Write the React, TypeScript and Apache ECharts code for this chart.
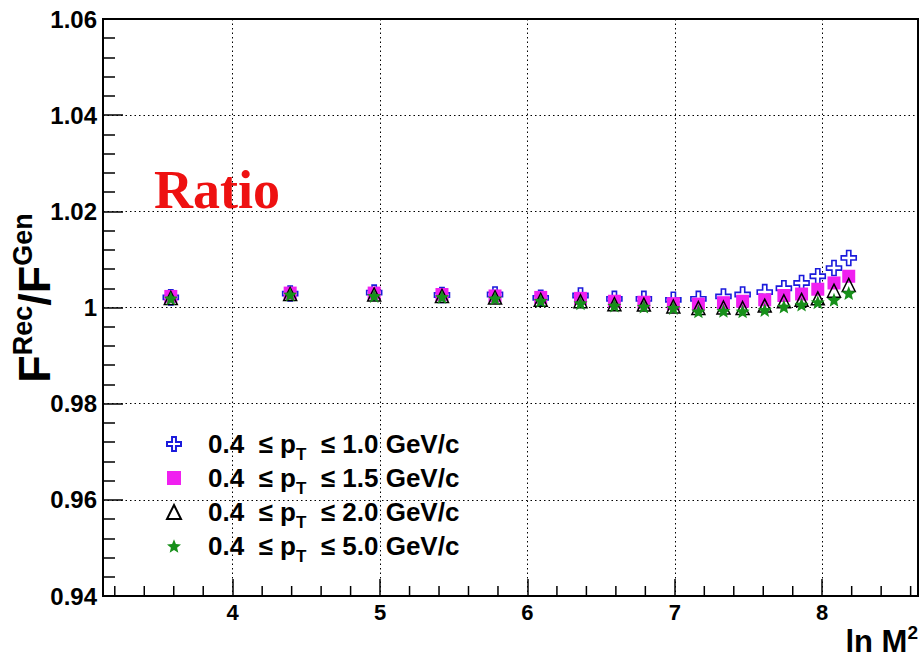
import React, { useEffect, useRef } from "react";
import * as echarts from "echarts";

// ln M^2 bin centres
const lnM2 = [3.58, 4.39, 4.96, 5.42, 5.78, 6.09, 6.36, 6.59, 6.79, 6.99, 7.16, 7.33, 7.46, 7.61, 7.74, 7.86, 7.97, 8.08, 8.18];

// F^Rec / F^Gen for the four p_T windows
const ratioPt10 = [1.0021, 1.0029, 1.0031, 1.0026, 1.0027, 1.0020, 1.0025, 1.0018, 1.0018, 1.0016, 1.0018, 1.0023, 1.0027, 1.0032, 1.0040, 1.0051, 1.0065, 1.0082, 1.0103];
const ratioPt15 = [1.0023, 1.0030, 1.0030, 1.0027, 1.0024, 1.0021, 1.0019, 1.0013, 1.0011, 1.0008, 1.0007, 1.0010, 1.0013, 1.0016, 1.0025, 1.0028, 1.0038, 1.0051, 1.0065];
const ratioPt20 = [1.0020, 1.0028, 1.0027, 1.0024, 1.0021, 1.0016, 1.0013, 1.0007, 1.0006, 1.0002, 0.9999, 1.0000, 0.9999, 1.0004, 1.0013, 1.0016, 1.0019, 1.0035, 1.0047];
const ratioPt50 = [1.0019, 1.0027, 1.0024, 1.0022, 1.0019, 1.0014, 1.0009, 1.0004, 1.0002, 0.9999, 0.9992, 0.9993, 0.9992, 0.9995, 1.0002, 1.0006, 1.0011, 1.0016, 1.0030];

const ptMax = ["1.0", "1.5", "2.0", "5.0"];
const seriesNames = ptMax.map((p) => `0.4 ≤ pT ≤ ${p} GeV/c`);

const xTickValues = [4, 5, 6, 7, 8];
const yTickLabels = ["0.94", "0.96", "0.98", "1", "1.02", "1.04", "1.06"];

const X_MIN = 3.12;
const X_MAX = 8.65;
const Y_MIN = 0.94;
const Y_MAX = 1.06;

const FONT = "'Liberation Sans', Arial, Helvetica, sans-serif";

const OPEN_CROSS = "path://M36,0 L64,0 L64,36 L100,36 L100,64 L64,64 L64,100 L36,100 L36,64 L0,64 L0,36 L36,36 Z";
const STAR = "path://M50,0 L62.93,32.2 L97.55,34.55 L70.92,56.8 L79.39,90.45 L50,72 L20.61,90.45 L29.08,56.8 L2.45,34.55 L37.07,32.2 Z";

// 0.2-step minor tick positions along ln M^2 (skipping the labelled integers)
function minorXTicks(): number[] {
  const out: number[] = [];
  for (let i = Math.ceil(X_MIN * 5); i <= Math.floor(X_MAX * 5); i++) {
    if (i % 5 !== 0) out.push(i / 5);
  }
  return out;
}

function pairs(ys: number[]) {
  return lnM2.map((x, i) => [x, ys[i]]);
}

export default function App() {
  const ref = useRef<HTMLDivElement>(null);

  useEffect(() => {
    if (!ref.current) return;
    const chart = echarts.init(ref.current, undefined, { renderer: "svg" });

    const option: echarts.EChartsOption = {
      animation: false,
      backgroundColor: "#ffffff",
      textStyle: { fontFamily: FONT },
      grid: {
        left: 103,
        right: 3,
        top: 19,
        bottom: 62,
        show: true,
        borderColor: "#000",
        borderWidth: 2,
        backgroundColor: "transparent",
      },
      xAxis: {
        type: "value",
        min: X_MIN,
        max: X_MAX,
        position: "bottom",
        axisLine: { show: true, onZero: false, lineStyle: { color: "#000", width: 2 } },
        axisTick: {
          show: true,
          inside: true,
          length: 17,
          customValues: xTickValues,
          lineStyle: { color: "#000", width: 1.5 },
        },
        axisLabel: {
          show: true,
          customValues: xTickValues,
          margin: 5,
          color: "#000",
          fontSize: 22,
          fontWeight: "bold",
          fontFamily: FONT,
          formatter: (v: number) => String(Math.round(v)),
        },
        splitLine: {
          show: true,
          lineStyle: { color: "#000", width: 1, type: [1.5, 3] },
        },
      },
      yAxis: {
        type: "value",
        min: Y_MIN,
        max: Y_MAX,
        interval: 0.02,
        axisLine: { show: true, onZero: false, lineStyle: { color: "#000", width: 2 } },
        axisTick: { show: true, inside: true, length: 20, lineStyle: { color: "#000", width: 1.5 } },
        minorTick: { show: true, splitNumber: 5, length: 12, lineStyle: { color: "#000", width: 1.5 } },
        axisLabel: {
          margin: 6,
          color: "#000",
          fontSize: 24,
          fontWeight: "bold",
          fontFamily: FONT,
          padding: [6, 0, 0, 0],
          formatter: (v: number) => yTickLabels[Math.round((v - Y_MIN) / 0.02)] ?? "",
        },
        splitLine: {
          show: true,
          lineStyle: { color: "#000", width: 1, type: [1.5, 3] },
        },
      },
      legend: {
        orient: "vertical",
        left: 161,
        top: 420,
        itemWidth: 14,
        itemHeight: 14,
        itemGap: -4,
        data: seriesNames,
        formatter: (name: string) => {
          const idx = seriesNames.indexOf(name);
          return `{g|}{a|0.4  ≤ p}{s|T}{a|  ≤ ${ptMax[idx]} GeV/c}`;
        },
        textStyle: {
          color: "#000",
          fontFamily: FONT,
          fontWeight: "bold",
          rich: {
            g: { width: 22, height: 10 },
            a: { fontSize: 26, fontWeight: "bold", lineHeight: 38, color: "#000", fontFamily: FONT },
            s: {
              fontSize: 17,
              fontWeight: "bold",
              lineHeight: 17,
              verticalAlign: "top",
              padding: [21, 0, 0, 0],
              color: "#000",
              fontFamily: FONT,
            },
          },
        },
      },
      graphic: [
        {
          type: "text",
          left: 154,
          top: 163,
          style: {
            text: "Ratio",
            fill: "#ee1111",
            font: "bold 54px 'Liberation Serif', 'Times New Roman', serif",
          },
        },
        {
          type: "text",
          x: 34,
          y: 298,
          rotation: Math.PI / 2,
          style: {
            text: "{F|F}{s|Rec}{F|/F}{s|Gen}",
            align: "center",
            verticalAlign: "middle",
            fill: "#000",
            rich: {
              F: { fontSize: 45, fontWeight: "bold", fontFamily: FONT, lineHeight: 50, fill: "#000" },
              s: { fontSize: 27, fontWeight: "bold", fontFamily: FONT, lineHeight: 27, verticalAlign: "top", fill: "#000" },
            },
          },
        },
        {
          type: "text",
          right: 3,
          top: 623,
          style: {
            text: "{m|ln M}{s|2}",
            fill: "#000",
            rich: {
              m: { fontSize: 31, fontWeight: "bold", fontFamily: FONT, lineHeight: 36, fill: "#000" },
              s: { fontSize: 19, fontWeight: "bold", fontFamily: FONT, lineHeight: 19, verticalAlign: "top", fill: "#000" },
            },
          },
        },
      ],
      series: [
        {
          // short minor ticks standing on the lower frame edge
          type: "custom",
          silent: true,
          legendHoverLink: false,
          data: minorXTicks().map((v) => [v]),
          renderItem: (_params: any, api: any) => {
            const p = api.coord([api.value(0), Y_MIN]);
            return {
              type: "line",
              shape: { x1: p[0], y1: p[1], x2: p[0], y2: p[1] - 10 },
              style: { stroke: "#000", lineWidth: 1.5 },
            };
          },
          z: 1,
        },
        {
          name: seriesNames[0],
          type: "scatter",
          data: pairs(ratioPt10),
          symbol: OPEN_CROSS,
          symbolSize: 15,
          itemStyle: { color: "#ffffff", borderColor: "#1a1adc", borderWidth: 1.6, opacity: 1 },
          z: 2,
        },
        {
          name: seriesNames[1],
          type: "scatter",
          data: pairs(ratioPt15),
          symbol: "rect",
          symbolSize: 13,
          itemStyle: { color: "#f020f0", opacity: 1 },
          z: 3,
        },
        {
          name: seriesNames[2],
          type: "scatter",
          data: pairs(ratioPt20),
          symbol: "triangle",
          symbolSize: 13,
          itemStyle: { color: "rgba(255,255,255,0)", borderColor: "#000", borderWidth: 1.5, opacity: 1 },
          z: 4,
        },
        {
          name: seriesNames[3],
          type: "scatter",
          data: pairs(ratioPt50),
          symbol: STAR,
          symbolSize: 14,
          itemStyle: { color: "#17901a", opacity: 1 },
          z: 5,
        },
      ],
    };

    chart.setOption(option);
    return () => chart.dispose();
  }, []);

  return (
    <div
      ref={ref}
      style={{ position: "absolute", left: 0, top: 0, width: 921, height: 658, background: "#fff" }}
    />
  );
}
